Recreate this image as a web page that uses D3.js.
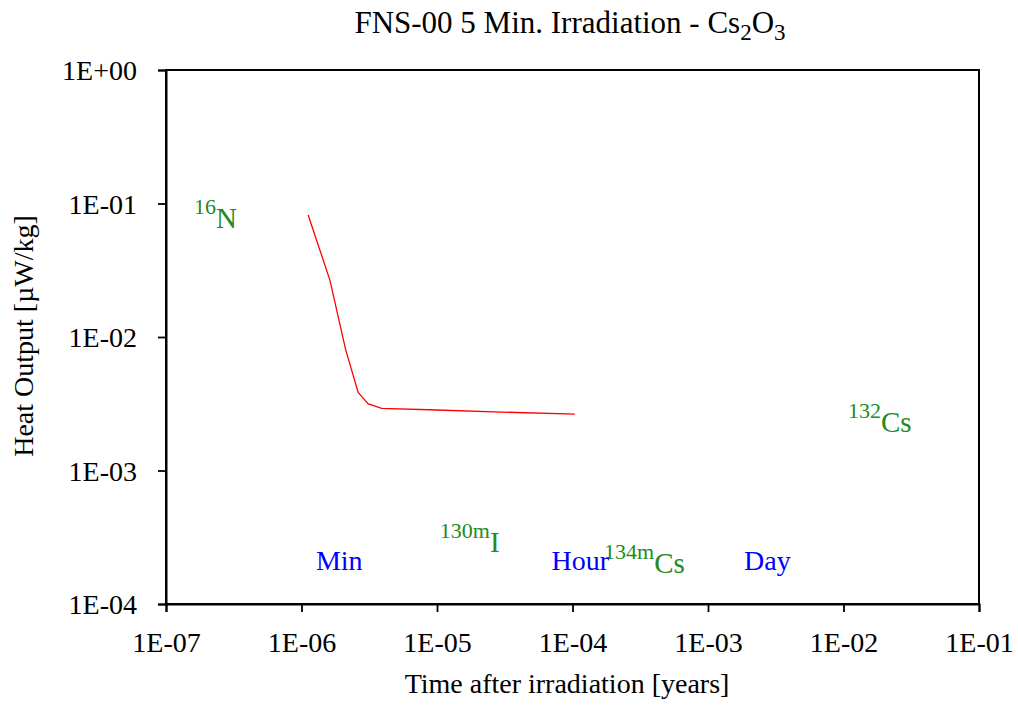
<!DOCTYPE html>
<html>
<head>
<meta charset="utf-8">
<script src="https://cdn.jsdelivr.net/npm/d3@7"></script>
<style>
  body { margin: 0; background: #fff; }
  svg text { font-family: "Liberation Serif", "Times New Roman", serif; }
</style>
</head>
<body>
<div id="chart"></div>
<script>
'use strict';

// red curve: heat output vs time after irradiation
var timeYears = [1.12e-6, 1.62e-6, 2.12e-6, 2.62e-6, 3.11e-6, 3.91e-6, 1.0e-5, 3.0e-5, 1.04e-4];
var heatOutput = [0.082, 0.0267, 0.0080, 0.00385, 0.00315, 0.00292, 0.00284, 0.00274, 0.00264];

// nuclide annotations (placed in data units)
var nuclideMass = ["16", "130m", "134m", "132"];
var nuclideSymbol = ["N", "I", "Cs", "Cs"];
var nuclideTime = [1.61e-7, 1.05e-5, 1.71e-4, 0.0108];
var nuclideHeat = [0.0655, 2.46e-4, 1.70e-4, 1.94e-3];

// time markers
var markNames = ["Min", "Hour", "Day"];
var markTime = [1.90e-6, 1.14e-4, 2.74e-3];
var markHeat = [1.8e-4, 1.8e-4, 1.8e-4];

var xTicks = [1e-7, 1e-6, 1e-5, 1e-4, 1e-3, 1e-2, 1e-1];
var xTickLabels = ["1E-07", "1E-06", "1E-05", "1E-04", "1E-03", "1E-02", "1E-01"];
var yTicks = [1e-4, 1e-3, 1e-2, 1e-1, 1];
var yTickLabels = ["1E-04", "1E-03", "1E-02", "1E-01", "1E+00"];

var width = 1018, height = 706;
var plot = {left: 166, right: 979, top: 70, bottom: 604};

var svg = d3.select("#chart").append("svg")
  .attr("width", width).attr("height", height);

var x = d3.scaleLog().domain([1e-7, 1e-1]).range([plot.left, plot.right]);
var y = d3.scaleLog().domain([1e-4, 1]).range([plot.bottom, plot.top]);

function minorTicks(lo, hi){
  var out = [];
  for (var e = lo; e < hi; e++) {
    for (var m = 2; m <= 9; m++) out.push(m * Math.pow(10, e));
  }
  return out;
}

// frame (top and right sides)
svg.append("rect")
  .attr("x", plot.left).attr("y", plot.top)
  .attr("width", plot.right - plot.left).attr("height", plot.bottom - plot.top)
  .attr("fill", "none").attr("stroke", "#000").attr("stroke-width", 2);

// x axis
var gx = svg.append("g").attr("transform", "translate(0," + plot.bottom + ")");
gx.call(d3.axisBottom(x).tickValues(minorTicks(-7, -1)).tickSize(4).tickFormat(""));
gx.call(d3.axisBottom(x).tickValues(xTicks).tickSize(8).tickPadding(20)
  .tickFormat(function(d, i){ return xTickLabels[i]; }));

// y axis
var gy = svg.append("g").attr("transform", "translate(" + plot.left + ",0)");
gy.call(d3.axisLeft(y).tickValues(minorTicks(-4, 0)).tickSize(4).tickFormat(""));
gy.call(d3.axisLeft(y).tickValues(yTicks).tickSize(8).tickPadding(21)
  .tickFormat(function(d, i){ return yTickLabels[i]; }));

svg.selectAll(".domain").attr("stroke-width", 2);
svg.selectAll(".tick line").attr("stroke-width", 1.8);
svg.selectAll(".tick text")
  .attr("font-family", "Liberation Serif, serif")
  .attr("font-size", 28).attr("fill", "#000");
gx.selectAll(".tick text").attr("dy", "0.71em");
gy.selectAll(".tick text").attr("dy", "0.34em");

// curve
var line = d3.line()
  .x(function(d){ return x(d[0]); })
  .y(function(d){ return y(d[1]); });

svg.append("path")
  .datum(d3.zip(timeYears, heatOutput))
  .attr("d", line)
  .attr("fill", "none")
  .attr("stroke", "#ff0000")
  .attr("stroke-width", 1.3);

// nuclide labels
var nuc = svg.append("g").selectAll("text")
  .data(d3.range(nuclideMass.length))
  .enter().append("text")
  .attr("x", function(i){ return x(nuclideTime[i]); })
  .attr("y", function(i){ return y(nuclideHeat[i]); })
  .attr("fill", "#228b22")
  .attr("font-size", 29);
nuc.append("tspan")
  .attr("font-size", 22).attr("dy", -14)
  .text(function(i){ return nuclideMass[i]; });
nuc.append("tspan")
  .attr("dy", 14)
  .text(function(i){ return nuclideSymbol[i]; });

// time markers
svg.append("g").selectAll("text")
  .data(d3.range(markNames.length))
  .enter().append("text")
  .attr("x", function(i){ return x(markTime[i]); })
  .attr("y", function(i){ return y(markHeat[i]); })
  .attr("text-anchor", "middle")
  .attr("fill", "#0000ff")
  .attr("font-size", 28)
  .text(function(i){ return markNames[i]; });

// title
var title = svg.append("text")
  .attr("x", 570).attr("y", 33)
  .attr("text-anchor", "middle")
  .attr("font-size", 31);
title.append("tspan").text("FNS-00 5 Min. Irradiation - Cs");
title.append("tspan").attr("font-size", 23).attr("dy", 7).text("2");
title.append("tspan").attr("dy", -7).text("O");
title.append("tspan").attr("font-size", 23).attr("dy", 7).text("3");

// axis titles
svg.append("text")
  .attr("x", 567).attr("y", 693)
  .attr("text-anchor", "middle")
  .attr("font-size", 28)
  .text("Time after irradiation [years]");

svg.append("text")
  .attr("transform", "translate(33,336) rotate(-90)")
  .attr("text-anchor", "middle")
  .attr("font-size", 28)
  .text("Heat Output [\u00b5W/kg]");
</script>
</body>
</html>
